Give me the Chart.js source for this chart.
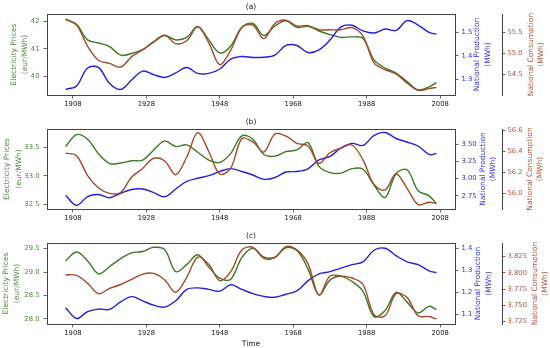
<!DOCTYPE html>
<html>
<head>
<meta charset="utf-8">
<script src="https://cdn.jsdelivr.net/npm/chart.js@4.4.0/dist/chart.umd.min.js"></script>
<style>
body { margin: 0; background: #fff; }
#wrap { position: relative; width: 550px; height: 348px; }
canvas { position: absolute; left: 0; }
</style>
</head>
<body>
<div id="wrap">
<canvas id="chartA" width="550" height="114" style="top:0px"></canvas>
<canvas id="chartB" width="550" height="114" style="top:114px"></canvas>
<canvas id="chartC" width="550" height="120" style="top:228px"></canvas>
</div>
<script>
var years = [1906, 1909, 1912, 1915, 1918, 1921, 1924, 1927, 1930, 1933, 1936, 1939, 1942, 1945, 1948, 1951, 1954, 1957,
    1960, 1963, 1966, 1969, 1972, 1975, 1978, 1981, 1984, 1987, 1990, 1993, 1996, 1999, 2002, 2005, 2007];
var xTicks = [1908, 1928, 1948, 1968, 1988, 2008];

// (a)
var pricesA = [42.07, 41.88, 41.32, 41.21, 41.08, 40.77, 40.83, 40.97, 41.24, 41.48, 41.32, 41.41, 41.80, 41.32, 40.85, 41.10, 41.78, 41.91,
    41.48, 41.82, 42.01, 41.77, 41.81, 41.64, 41.51, 41.41, 41.43, 41.37, 40.60, 40.31, 40.13, 39.82, 39.52, 39.63, 39.79];
var productionA = [1.257, 1.272, 1.348, 1.350, 1.282, 1.257, 1.297, 1.335, 1.320, 1.308, 1.327, 1.350, 1.325, 1.325, 1.344, 1.386, 1.397, 1.393,
    1.394, 1.403, 1.444, 1.444, 1.414, 1.425, 1.467, 1.523, 1.530, 1.506, 1.497, 1.514, 1.508, 1.550, 1.531, 1.500, 1.492];
var consumptionA = [55.81, 55.67, 55.17, 54.83, 54.76, 54.67, 54.92, 55.08, 55.28, 55.43, 55.23, 55.30, 55.63, 55.25, 54.73, 55.08, 55.61, 55.67,
    55.35, 55.71, 55.79, 55.65, 55.66, 55.56, 55.56, 55.56, 55.61, 55.41, 54.77, 54.61, 54.51, 54.29, 54.12, 54.16, 54.19];
var pricesTicksA = [40, 41, 42];
var productionTicksA = [1.3, 1.4, 1.5];
var consumptionTicksA = [54.5, 55.0, 55.5];

// (b)
var pricesB = [33.52, 33.73, 33.65, 33.39, 33.22, 33.23, 33.27, 33.28, 33.46, 33.62, 33.52, 33.55, 33.42, 33.28, 33.24, 33.40, 33.71, 33.65,
    33.38, 33.35, 33.43, 33.46, 33.59, 33.17, 33.06, 33.05, 33.13, 33.12, 32.84, 32.62, 33.04, 33.11, 32.74, 32.65, 32.51];
var productionB = [2.759, 2.613, 2.741, 2.770, 2.724, 2.788, 2.843, 2.850, 2.799, 2.738, 2.850, 2.961, 3.006, 3.044, 3.105, 3.147, 3.105, 3.054,
    2.991, 3.017, 3.097, 3.105, 3.144, 3.272, 3.323, 3.446, 3.513, 3.483, 3.628, 3.672, 3.584, 3.533, 3.475, 3.352, 3.366];
var consumptionB = [56.385, 56.361, 56.171, 56.052, 56.001, 56.009, 56.157, 56.239, 56.336, 56.310, 56.178, 56.348, 56.581, 56.401, 56.186, 56.243, 56.525, 56.492,
    56.396, 56.568, 56.549, 56.479, 56.454, 56.288, 56.389, 56.434, 56.463, 56.320, 56.085, 56.033, 56.186, 56.049, 55.893, 55.916, 55.905];
var pricesTicksB = [32.5, 33.0, 33.5];
var productionTicksB = [2.75, 3.00, 3.25, 3.50];
var consumptionTicksB = [56.0, 56.2, 56.4, 56.6];

// (c)
var pricesC = [29.24, 29.43, 29.24, 28.96, 29.12, 29.29, 29.41, 29.44, 29.53, 29.48, 29.01, 29.16, 29.37, 29.11, 28.87, 28.85, 29.31, 29.51,
    29.32, 29.32, 29.52, 29.46, 29.07, 28.51, 28.83, 28.91, 28.80, 28.59, 28.05, 28.18, 28.57, 28.36, 28.13, 28.27, 28.20];
var productionC = [1.130, 1.081, 1.113, 1.124, 1.123, 1.157, 1.181, 1.162, 1.142, 1.133, 1.162, 1.214, 1.221, 1.214, 1.206, 1.235, 1.214, 1.195,
    1.182, 1.178, 1.192, 1.207, 1.253, 1.285, 1.295, 1.311, 1.327, 1.340, 1.393, 1.402, 1.368, 1.340, 1.327, 1.299, 1.290];
var consumptionC = [3.797, 3.796, 3.784, 3.768, 3.776, 3.782, 3.790, 3.798, 3.799, 3.789, 3.770, 3.793, 3.824, 3.813, 3.788, 3.802, 3.835, 3.839,
    3.822, 3.823, 3.840, 3.835, 3.814, 3.766, 3.795, 3.795, 3.792, 3.782, 3.736, 3.734, 3.768, 3.762, 3.734, 3.733, 3.729];
var pricesTicksC = [28.0, 28.5, 29.0, 29.5];
var productionTicksC = [1.1, 1.2, 1.3, 1.4];
var consumptionTicksC = [3.725, 3.750, 3.775, 3.800, 3.825];

var FONT = 'DejaVu Sans';
var GREEN = '#3a7a22', BLUE = '#2020dd', RED = '#a44a2a';
var GREEN_TXT = '#4c8c3c', BLUE_TXT = '#3030e0', RED_TXT = '#b0553a';
var SPINE = '#444';

// titles, top spine and the rotated axis labels
var panelText = {
    id: 'panelText',
    afterDraw: function (chart, args, opts) {
        var ctx = chart.ctx, a = chart.chartArea;
        ctx.save();
        ctx.strokeStyle = SPINE;
        ctx.lineWidth = 1;
        ctx.beginPath();
        ctx.moveTo(a.left, Math.round(a.top) + 0.5);
        ctx.lineTo(a.right, Math.round(a.top) + 0.5);
        ctx.stroke();

        ctx.font = '7.5px "' + FONT + '"';
        ctx.fillStyle = '#222';
        ctx.textAlign = 'center';
        ctx.textBaseline = 'middle';
        var cx = (a.left + a.right) / 2;
        ctx.fillText(opts.title, cx, a.top - 7);
        if (opts.xTitle) ctx.fillText(opts.xTitle, cx, chart.height - 4);

        var cy = (a.top + a.bottom) / 2;
        function vtext(lines, xs, color) {
            ctx.fillStyle = color;
            for (var i = 0; i < lines.length; i++) {
                ctx.save();
                ctx.translate(xs[i], cy);
                ctx.rotate(-Math.PI / 2);
                ctx.fillText(lines[i], 0, 0);
                ctx.restore();
            }
        }
        vtext(['Electricity Prices', '(eur/MWh)'], opts.leftX, GREEN_TXT);
        vtext(['National Production', '(MWh)'], opts.midX, BLUE_TXT);
        vtext(['National Consumption', '(MWh)'], opts.rightX, RED_TXT);
        ctx.restore();
    }
};

function yAxis(pos, weight, min, max, ticks, digits, color, width, pad) {
    return {
        type: 'linear',
        position: pos,
        weight: weight,
        min: min,
        max: max,
        afterFit: function (s) { s.width = width; },
        afterBuildTicks: function (s) { s.ticks = ticks.map(function (v) { return { value: v }; }); },
        grid: { drawOnChartArea: false, drawTicks: true, tickLength: 3.5, tickColor: SPINE, tickWidth: 0.8 },
        border: { display: true, color: SPINE, width: 1 },
        ticks: {
            color: color, autoSkip: false, padding: pad,
            font: { family: FONT, size: 6.8 },
            callback: function (v) { return Number(v).toFixed(digits); }
        }
    };
}

function makePanel(id, o) {
    new Chart(document.getElementById(id), {
        type: 'line',
        data: {
            labels: years,
            datasets: [
                { data: o.consumption, yAxisID: 'yC', borderColor: RED, order: 1 },
                { data: o.production, yAxisID: 'yN', borderColor: BLUE, order: 2 },
                { data: o.prices, yAxisID: 'y', borderColor: GREEN, order: 3 }
            ]
        },
        options: {
            responsive: false,
            animation: false,
            events: [],
            layout: { padding: { top: o.top, left: 0, right: 0, bottom: 0 } },
            elements: { point: { radius: 0 }, line: { borderWidth: 1.4, tension: 0.35 } },
            plugins: {
                legend: { display: false },
                tooltip: { enabled: false },
                panelText: { title: o.title, xTitle: o.xTitle, leftX: o.leftX, midX: o.midX, rightX: o.rightX }
            },
            scales: {
                x: {
                    type: 'linear',
                    min: 1900.95,
                    max: 2012.05,
                    afterFit: function (s) { s.height = o.xh; },
                    afterBuildTicks: function (s) { s.ticks = xTicks.map(function (v) { return { value: v }; }); },
                    grid: { drawOnChartArea: false, drawTicks: true, tickLength: 3.5, tickColor: SPINE, tickWidth: 0.8 },
                    border: { display: true, color: SPINE, width: 1 },
                    ticks: {
                        color: '#222', autoSkip: false, maxRotation: 0, padding: 1.5,
                        font: { family: FONT, size: 6.8 },
                        callback: function (v) { return String(v); }
                    }
                },
                y: yAxis('left', 0, o.pRange[0], o.pRange[1], o.pTicks, o.pDigits, GREEN_TXT, 47, 4),
                yN: yAxis('right', 1, o.nRange[0], o.nRange[1], o.nTicks, o.nDigits, BLUE_TXT, 47, 3),
                yC: yAxis('right', 2, o.cRange[0], o.cRange[1], o.cTicks, o.cDigits, RED_TXT, 48, 2)
            }
        },
        plugins: [panelText]
    });
}

makePanel('chartA', {
    title: '(a)', top: 14, xh: 19,
    leftX: [14, 25], midX: [477, 488], rightX: [531, 541],
    prices: pricesA, production: productionA, consumption: consumptionA,
    pRange: [39.338, 42.252], pTicks: pricesTicksA, pDigits: 0,
    nRange: [1.2332, 1.578], nTicks: productionTicksA, nDigits: 1,
    cRange: [54.007, 55.936], cTicks: consumptionTicksA, cDigits: 1
});
makePanel('chartB', {
    title: '(b)', top: 15, xh: 19,
    leftX: [7.5, 19], midX: [483, 493.5], rightX: [530, 540],
    prices: pricesB, production: productionB, consumption: consumptionB,
    pRange: [32.417, 33.830], pTicks: pricesTicksB, pDigits: 1,
    nRange: [2.560, 3.722], nTicks: productionTicksB, nDigits: 2,
    cRange: [55.851, 56.616], cTicks: consumptionTicksB, cDigits: 1
});
makePanel('chartC', {
    title: '(c)', top: 15, xh: 24, xTitle: 'Time',
    leftX: [6.5, 17.5], midX: [478, 489], rightX: [535, 545],
    prices: pricesC, production: productionC, consumption: consumptionC,
    pRange: [27.893, 29.622], pTicks: pricesTicksC, pDigits: 1,
    nRange: [1.056, 1.426], nTicks: productionTicksC, nDigits: 1,
    cRange: [3.7215, 3.8456], cTicks: consumptionTicksC, cDigits: 3
});
</script>
</body>
</html>
